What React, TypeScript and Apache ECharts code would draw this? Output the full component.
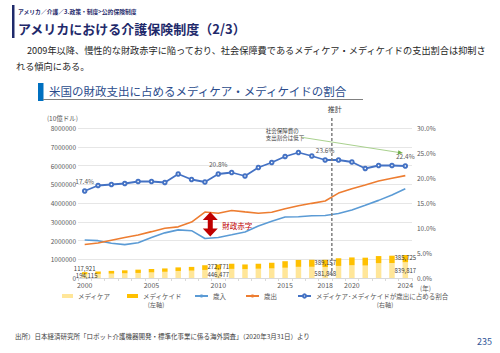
import React, { useEffect, useRef } from 'react';
import * as echarts from 'echarts';

const FONT = '"Noto Sans CJK JP", "Noto Sans", sans-serif';

const years = ['2000','2001','2002','2003','2004','2005','2006','2007','2008','2009','2010','2011','2012','2013','2014','2015','2016','2017','2018','2019','2020','2021','2022','2023','2024'];
const medicare = [194115,217384,230855,249433,269360,298638,329868,375407,390758,430093,446477,485653,471793,497826,511688,546202,594536,597307,581848,644000,679000,664000,790000,800000,839817];
const medicaid = [117921,129374,147512,160693,176231,181720,180625,190624,201426,250924,272771,274964,250534,265390,301472,349786,367993,374685,389157,409000,418000,420000,380000,390000,385725];
const revenue = [2025000,1991000,1853000,1782000,1880000,2154000,2407000,2568000,2524000,2105000,2163000,2303000,2450000,2775000,3021000,3250000,3268000,3316000,3330000,3438000,3630000,3880000,4140000,4430000,4760000];
const outlay = [1789000,1863000,2011000,2160000,2293000,2472000,2655000,2729000,2983000,3518000,3457000,3603000,3527000,3455000,3506000,3692000,3853000,3982000,4109000,4529000,4760000,4960000,5170000,5320000,5460000];
const ratio = [17.4,18.5,18.7,18.9,19.3,19.3,19.1,20.8,19.7,19.2,20.8,21.1,20.4,22.1,23.1,24.3,25.1,24.4,23.6,23.6,23.2,21.9,22.5,22.5,22.4];
const xTickLabels = ['2000','2005','2010','2015','2018','2020','2024'];
const labeledYears = ['2000','2010','2018','2024'];

const NAME_MCARE = 'メディケア';
const NAME_MCAID = 'メディケイド';
const NAME_REV = '歳入';
const NAME_OUT = '歳出';
const NAME_RATIO = 'メディケア･メディケイドが歳出に占める割合';

const txt = (text: string, x: number, y: number, size: number, fill: string, extra: any = {}) => ({
  type: 'text',
  silent: true,
  style: {
    text, x, y, fill,
    fontSize: size,
    fontFamily: FONT,
    fontWeight: extra.weight || 'normal',
    align: extra.align || 'left',
    verticalAlign: 'middle',
  },
});

export default function App() {
  const ref = useRef<HTMLDivElement>(null);
  useEffect(() => {
    if (!ref.current) return;
    const chart = echarts.init(ref.current, null, { renderer: 'svg' });
    const labelIdx = labeledYears.map((y) => years.indexOf(y));
    const fmt = (v: number) => v.toLocaleString('en-US');
    const labelStyle = { fontSize: 6, color: '#404040', fontFamily: FONT, lineHeight: 6 };

    const medicareData = medicare.map((v, i) =>
      labelIdx.includes(i)
        ? { value: v, label: { show: true, position: 'inside', offset: i === 0 ? [2, -0.5] : [0, 0.7] } }
        : v
    );
    const medicaidData = medicaid.map((v, i) =>
      labelIdx.includes(i)
        ? { value: v, label: { show: true, position: i === 0 ? 'top' : 'inside', distance: 1, offset: i === 0 ? [0, 0] : [0, -0.7] } }
        : v
    );
    const ratioData = ratio.map((v, i) =>
      labelIdx.includes(i) ? { value: v, label: { show: true, position: 'top', distance: 4 } } : v
    );

    const legendBase: any = {
      top: 292,
      padding: 0,
      itemHeight: 4,
      itemWidth: 11,
      selectedMode: false,
      textStyle: { fontSize: 6.5, color: '#595959', fontFamily: FONT, lineHeight: 8 },
    };

    const option: any = {
      animation: false,
      textStyle: { fontFamily: FONT },
      grid: { left: 78, right: 88, top: 128, bottom: 75, containLabel: false },
      legend: [
        { ...legendBase, left: 62, icon: 'rect', data: [NAME_MCARE] },
        { ...legendBase, left: 127, icon: 'rect', data: [NAME_MCAID] },
        { ...legendBase, left: 194, itemWidth: 13, data: [NAME_REV] },
        { ...legendBase, left: 245, itemWidth: 13, data: [NAME_OUT] },
        { ...legendBase, left: 297, itemWidth: 13, data: [NAME_RATIO] },
      ],
      xAxis: {
        type: 'category',
        data: years,
        boundaryGap: true,
        axisLine: { lineStyle: { color: '#D9D9D9' } },
        axisTick: { show: true, interval: 0, length: 3, lineStyle: { color: '#D9D9D9' } },
        axisLabel: {
          interval: (_i: number, v: string) => xTickLabels.includes(v),
          color: '#595959',
          fontSize: 7,
          margin: 3.5,
          fontFamily: FONT,
        },
      },
      yAxis: [
        {
          type: 'value',
          min: 0,
          max: 8000000,
          interval: 1000000,
          name: '(10億ドル)',
          nameLocation: 'end',
          nameGap: 7,
          nameTextStyle: { align: 'right', fontSize: 6.5, color: '#595959', fontFamily: FONT, padding: [0, 0, 0, 0] },
          axisLine: { show: false },
          axisTick: { show: false },
          axisLabel: { color: '#595959', fontSize: 6.5, margin: 2, fontFamily: FONT, formatter: (v: number) => String(v) },
          splitLine: { lineStyle: { color: '#E6E6E6' } },
        },
        {
          type: 'value',
          min: 0,
          max: 30,
          interval: 5,
          position: 'right',
          axisLine: { show: false },
          axisTick: { show: false },
          splitLine: { show: false },
          axisLabel: {
            color: '#595959',
            fontSize: 6.5,
            margin: 5,
            fontFamily: FONT,
            formatter: (v: number) => v.toFixed(1) + '%',
          },
        },
      ],
      series: [
        {
          name: NAME_MCARE,
          type: 'bar',
          stack: 'mm',
          barWidth: 5.5,
          itemStyle: { color: '#FFE699' },
          label: { show: false, ...labelStyle, formatter: (p: any) => fmt(p.value) },
          data: medicareData,
          z: 2,
        },
        {
          name: NAME_MCAID,
          type: 'bar',
          stack: 'mm',
          barWidth: 5.5,
          itemStyle: { color: '#FFC000' },
          label: { show: false, ...labelStyle, formatter: (p: any) => fmt(p.value) },
          data: medicaidData,
          z: 2,
        },
        {
          name: NAME_REV,
          type: 'line',
          showSymbol: false,
          symbol: 'none',
          lineStyle: { color: '#5B9BD5', width: 1.6 },
          itemStyle: { color: '#5B9BD5' },
          data: revenue,
          z: 3,
        },
        {
          name: NAME_OUT,
          type: 'line',
          showSymbol: false,
          symbol: 'none',
          lineStyle: { color: '#ED7D31', width: 1.6 },
          itemStyle: { color: '#ED7D31' },
          data: outlay,
          z: 3,
        },
        {
          name: NAME_RATIO,
          type: 'line',
          yAxisIndex: 1,
          symbol: 'emptyCircle',
          symbolSize: 3.5,
          lineStyle: { color: '#4472C4', width: 1.8 },
          itemStyle: { color: '#4472C4', borderWidth: 1 },
          label: { show: false, fontSize: 6.5, color: '#595959', fontFamily: FONT, formatter: (p: any) => p.value.toFixed(1) + '%' },
          data: ratioData,
          z: 4,
        },
      ],
    };
    chart.setOption(option);

    const px = (cat: string) => chart.convertToPixel({ xAxisIndex: 0 } as any, cat) as number;
    const py = (v: number) => chart.convertToPixel({ yAxisIndex: 0 } as any, v) as number;
    const xd = (px('2018') + px('2019')) / 2;
    const x9 = px('2009');
    const x10 = px('2010');
    const ax = x9 + 0.4 * (x10 - x9);
    const aTop = py(outlay[9]);
    const aBot = py(revenue[9]) - 2;
    const hw = 7.5, sw = 2.5, hh = 8;
    const arrowPts = [
      [ax, aTop], [ax + hw, aTop + hh], [ax + sw, aTop + hh], [ax + sw, aBot - hh], [ax + hw, aBot - hh],
      [ax, aBot], [ax - hw, aBot - hh], [ax - sw, aBot - hh], [ax - sw, aTop + hh], [ax - hw, aTop + hh],
    ];
    const yZero = py(0);

    const g1 = [301.7, 137.3];
    const g2 = [399, 152.5];
    const dx = g2[0] - g1[0], dy = g2[1] - g1[1];
    const len = Math.sqrt(dx * dx + dy * dy);
    const ux = dx / len, uy = dy / len;
    const tip = [g2[0] + ux * 4, g2[1] + uy * 4];
    const base = [g2[0] - ux * 1, g2[1] - uy * 1];
    const headPts = [tip, [base[0] - uy * 2.2, base[1] + ux * 2.2], [base[0] + uy * 2.2, base[1] - ux * 2.2]];

    chart.setOption({
      graphic: [
        { type: 'rect', silent: true, shape: { x: 12, y: 5, width: 2.5, height: 33 }, style: { fill: '#1F2A6B' } },
        txt('アメリカ／介護／3.政策・制度>公的保険制度', 18, 11, 5.8, '#1F2A6B', { weight: 'bold' }),
        txt('アメリカにおける介護保険制度（2/3）', 18, 28, 13, '#1F2A6B', { weight: 'bold' }),
        txt('2009年以降、慢性的な財政赤字に陥っており、社会保障費であるメディケア・メディケイドの支出割合は抑制さ', 27, 50, 9.2, '#262626'),
        txt('れる傾向にある。', 16, 66, 9.2, '#262626'),
        { type: 'rect', silent: true, shape: { x: 38, y: 83, width: 5.5, height: 18 }, style: { fill: '#0070C0' } },
        { type: 'line', silent: true, shape: { x1: 43, y1: 99.5, x2: 363, y2: 99.5 }, style: { stroke: '#808080', lineWidth: 1 } },
        txt('米国の財政支出に占めるメディケア・メディケイドの割合', 49, 91, 11.5, '#2B4C8C'),
        txt('推計', xd + 3, 108.5, 7, '#404040', { align: 'center' }),
        { type: 'line', silent: true, z: 10, shape: { x1: xd, y1: 118, x2: xd, y2: yZero }, style: { stroke: '#7F7F7F', lineWidth: 1.5, lineDash: [3, 2] } },
        { type: 'polygon', silent: true, z: 10, shape: { points: arrowPts }, style: { fill: '#C00000' } },
        txt('財政赤字', ax + 12, (aTop + aBot) / 2 + 1, 7.5, '#C00000'),
        txt('社会保障費の', 265.7, 130.8, 5.5, '#404040'),
        txt('支出割合は低下', 265.7, 137.5, 5.5, '#404040'),
        { type: 'line', silent: true, z: 10, shape: { x1: g1[0], y1: g1[1], x2: g2[0], y2: g2[1] }, style: { stroke: '#A9D18E', lineWidth: 1 } },
        { type: 'polygon', silent: true, z: 10, shape: { points: headPts }, style: { fill: '#70AD47' } },
        txt('(左軸)', 156, 304.5, 6.2, '#595959', { align: 'center' }),
        txt('(右軸)', 385, 304.8, 6.2, '#595959', { align: 'center' }),
        txt('(年)', 420, 287.5, 6.5, '#595959'),
        txt('出所）日本経済研究所「ロボット介護機器開発・標準化事業に係る海外調査」（2020年3月31日）より', 15, 336, 6.5, '#404040'),
        txt('235', 492, 341, 9, '#2F5597', { align: 'right' }),
      ],
    });

    return () => chart.dispose();
  }, []);

  return (
    <div
      ref={ref}
      style={{ position: 'absolute', left: 0, top: 0, width: 500, height: 353, background: '#fff' }}
    />
  );
}
